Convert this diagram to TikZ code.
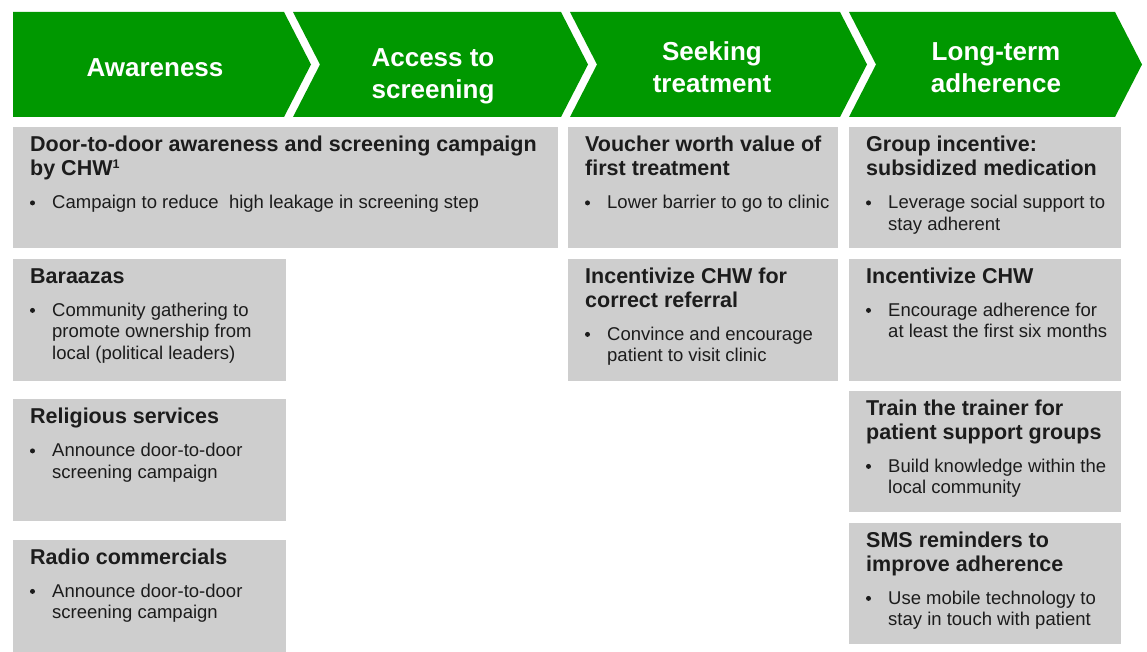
\documentclass[tikz,border=0pt]{standalone}
\usepackage{fontspec}
\setmainfont{Liberation Sans}
\usetikzlibrary{calc}

\definecolor{chevgreen}{RGB}{0,152,0}
\definecolor{cardgray}{RGB}{206,206,206}
\definecolor{textdark}{RGB}{28,28,28}

\newcommand{\chevfont}{\fontsize{26}{32}\bfseries\selectfont}
\newcommand{\titlefont}{\fontsize{21.5}{24}\bfseries\selectfont}
\newcommand{\bodyfont}{\fontsize{18.5}{21.5}\selectfont}
\newcommand{\footmark}[1]{\raisebox{7.5pt}{\fontsize{12.5}{12.5}\selectfont #1}}

\tikzset{
  chev/.style={fill=chevgreen, draw=none},
  chevlabel/.style={text=white, font=\chevfont, align=center, inner sep=0pt, anchor=base},
  card/.style={rectangle, fill=cardgray, draw=none, inner sep=0pt, anchor=north west},
  ctitle/.style={anchor=base west, inner sep=0pt, align=left, font=\titlefont, text=textdark},
  cbody/.style={anchor=base west, inner sep=0pt, align=left, font=\bodyfont, text=textdark},
  bulletdot/.style={circle, fill=textdark, draw=none, inner sep=0pt, minimum size=5pt},
}

% card: name, x, y, width, height, title lines, title, body lines, body
% (the base anchor of a multi-line node sits on its last line)
\newcommand{\actcard}[9]{%
  \node[card, minimum width=#4pt, minimum height=#5pt] (#1) at (#2,#3) {};
  \pgfmathsetmacro{\titleoff}{24.7+24*(#6-1)}
  \node[ctitle] (#1-title) at ($(#1.north west)+(17,\titleoff)$) {#7};
  \pgfmathsetmacro{\bodyoff}{\titleoff+33}
  \pgfmathsetmacro{\bodylast}{\bodyoff+21.5*(#8-1)}
  \node[bulletdot] (#1-dot) at ($(#1.north west)+(19.5,\bodyoff-5.8)$) {};
  \node[cbody] (#1-body) at ($(#1.north west)+(39,\bodylast)$) {#9};
}

\begin{document}
\begin{tikzpicture}[x=1pt,y=-1pt]
  \fill[white] (0,0) rectangle (1147,652);
  \useasboundingbox (0,0) rectangle (1147,652);

  % process chevrons
  \fill[chev] (13,12) -- (284,12) -- (311,64.5) -- (284,117) -- (13,117) -- cycle;
  \fill[chev] (293,12) -- (561,12) -- (588,64.5) -- (561,117) -- (293,117) -- (320,64.5) -- cycle;
  \fill[chev] (570,12) -- (840,12) -- (867,64.5) -- (840,117) -- (570,117) -- (597,64.5) -- cycle;
  \fill[chev] (849,12) -- (1115,12) -- (1142,64.5) -- (1115,117) -- (849,117) -- (876,64.5) -- cycle;

  \node[chevlabel] (awareness) at (155,76.7) {Awareness};
  \node[chevlabel] (access) at (433,98.5) {Access to\\screening};
  \node[chevlabel] (seeking) at (712,93) {Seeking\\treatment};
  \node[chevlabel] (longterm) at (996,93) {Long-term\\adherence};

  % awareness and screening column
  \actcard{doortodoor}{13}{127}{545}{121}{2}
    {Door-to-door awareness and screening campaign\\by CHW\footmark{1}}
    {1}{Campaign to reduce\ \ high leakage in screening step}
  \actcard{baraazas}{13}{258.5}{273}{122}{1}
    {Baraazas}
    {3}{Community gathering to\\promote ownership from\\local (political leaders)}
  \actcard{religious}{13}{399}{273}{122}{1}
    {Religious services}
    {2}{Announce door-to-door\\screening campaign}
  \actcard{radio}{13}{539.5}{273}{113}{1}
    {Radio commercials}
    {2}{Announce door-to-door\\screening campaign}

  % seeking treatment column
  \actcard{voucher}{568}{127}{270}{121}{2}
    {Voucher worth value of\\first treatment}
    {1}{Lower barrier to go to clinic}
  \actcard{referral}{568}{258.5}{270}{122}{2}
    {Incentivize CHW for\\correct referral}
    {2}{Convince and encourage\\patient to visit clinic}

  % long-term adherence column
  \actcard{group}{849}{127}{272}{121}{2}
    {Group incentive:\\subsidized medication}
    {2}{Leverage social support to\\stay adherent}
  \actcard{chwadh}{849}{258.5}{272}{122}{1}
    {Incentivize CHW}
    {2}{Encourage adherence for\\at least the first six months}
  \actcard{trainer}{849}{390.5}{272}{121.5}{2}
    {Train the trainer for\\patient support groups}
    {2}{Build knowledge within the\\local community}
  \actcard{sms}{849}{522.5}{272}{121}{2}
    {SMS reminders to\\improve adherence}
    {2}{Use mobile technology to\\stay in touch with patient}
\end{tikzpicture}
\end{document}
